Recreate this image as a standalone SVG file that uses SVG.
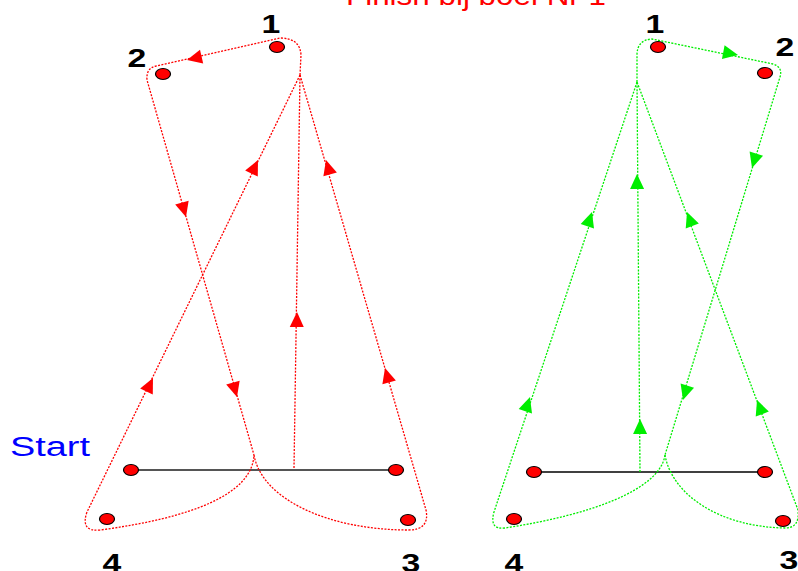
<svg xmlns="http://www.w3.org/2000/svg" xmlns:xlink="http://www.w3.org/1999/xlink" width="798" height="571" viewBox="0 0 798 571">
<style>
.rd{fill:none;stroke:#ff0000;stroke-width:1.3;stroke-dasharray:2 1.4}
.gd{fill:none;stroke:#00ee00;stroke-width:1.3;stroke-dasharray:2 1.4}
.ra{fill:#ff0000}
.ga{fill:#00ee00}
.node{fill:#ff0000;stroke:#000;stroke-width:1.2}
.num{font-family:"Liberation Sans",Arial,sans-serif;font-weight:bold;font-size:25px;fill:#000;text-anchor:middle}
</style>
<defs>
<path id="ah" d="M0,0 L-15,-7 L-15,7 Z"/>
</defs>
<rect width="798" height="571" fill="#fff"/>
<text x="346" y="5" font-family="Liberation Sans, Arial, sans-serif" font-size="27" fill="#ff0000" textLength="260" lengthAdjust="spacingAndGlyphs">Finish bij boei Nr 1</text>
<text x="10" y="456" font-family="Liberation Sans, Arial, sans-serif" font-size="27" fill="#0000ff" textLength="80" lengthAdjust="spacingAndGlyphs">Start</text>
<g id="connectors">
<line x1="131" y1="470" x2="396" y2="470" stroke="#555" stroke-width="2"/>
<line x1="534" y1="472" x2="765" y2="472" stroke="#000" stroke-width="1.5"/>
<path class="rd" d="M294 468 L300 75"/>
<path class="rd" d="M300 75 L301 55 Q300 38 280 38 L156 66 Q146 68 147 80 L254 455"/>
<path class="rd" d="M300 75 L87 512 Q80 532 100 530 C190 518 252 495 254 455"/>
<path class="rd" d="M254 455 C262 500 330 530 408 530 Q430 530 426 510 L300 75"/>
<path class="gd" d="M640 472 L637 82"/>
<path class="gd" d="M637 82 L637 55 Q637 40 652 39 L773 64 Q783 67 780 77 L665 455"/>
<path class="gd" d="M637 82 L494 512 Q489 530 505 528 C590 515 660 490 665 455"/>
<path class="gd" d="M665 455 C672 495 720 527 785 528 Q800 528 798 510 L637 82"/>
<use xlink:href="#ah" class="ra" transform="translate(187,60) rotate(166.8)"/>
<use xlink:href="#ah" class="ra" transform="translate(186,217) rotate(74.2)"/>
<use xlink:href="#ah" class="ra" transform="translate(237,397) rotate(74.2)"/>
<use xlink:href="#ah" class="ra" transform="translate(258,160) rotate(-64.2)"/>
<use xlink:href="#ah" class="ra" transform="translate(153,378) rotate(-64.2)"/>
<use xlink:href="#ah" class="ra" transform="translate(297,312) rotate(-89.1)"/>
<use xlink:href="#ah" class="ra" transform="translate(326,160) rotate(-106)"/>
<use xlink:href="#ah" class="ra" transform="translate(385,368) rotate(-106)"/>
<use xlink:href="#ah" class="ga" transform="translate(738,55) rotate(11)"/>
<use xlink:href="#ah" class="ga" transform="translate(752,168) rotate(106.7)"/>
<use xlink:href="#ah" class="ga" transform="translate(683,400) rotate(106.7)"/>
<use xlink:href="#ah" class="ga" transform="translate(592,212) rotate(-71.9)"/>
<use xlink:href="#ah" class="ga" transform="translate(530,397) rotate(-71.9)"/>
<use xlink:href="#ah" class="ga" transform="translate(637,174) rotate(-90.4)"/>
<use xlink:href="#ah" class="ga" transform="translate(640,419) rotate(-90.4)"/>
<use xlink:href="#ah" class="ga" transform="translate(687,212) rotate(-110.6)"/>
<use xlink:href="#ah" class="ga" transform="translate(757,400) rotate(-110.6)"/>
</g>
<g id="L1"><ellipse class="node" cx="277" cy="47" rx="7.5" ry="5.5"/><text class="num" transform="translate(271,33) scale(1.35,1)">1</text></g>
<g id="L2"><ellipse class="node" cx="163" cy="74" rx="7.5" ry="5.5"/><text class="num" transform="translate(137,67) scale(1.35,1)">2</text></g>
<g id="LS1"><ellipse class="node" cx="131" cy="470" rx="7.5" ry="5.5"/></g>
<g id="LS2"><ellipse class="node" cx="396" cy="470" rx="7.5" ry="5.5"/></g>
<g id="L4"><ellipse class="node" cx="107" cy="519" rx="7.5" ry="5.5"/><text class="num" transform="translate(112,572) scale(1.35,1)">4</text></g>
<g id="L3"><ellipse class="node" cx="408" cy="520" rx="7.5" ry="5.5"/><text class="num" transform="translate(411,572) scale(1.35,1)">3</text></g>
<g id="R1"><ellipse class="node" cx="658" cy="47" rx="7.5" ry="5.5"/><text class="num" transform="translate(655,33) scale(1.35,1)">1</text></g>
<g id="R2"><ellipse class="node" cx="765" cy="73" rx="7.5" ry="5.5"/><text class="num" transform="translate(785,56) scale(1.35,1)">2</text></g>
<g id="RS1"><ellipse class="node" cx="534" cy="472" rx="7.5" ry="5.5"/></g>
<g id="RS2"><ellipse class="node" cx="765" cy="472" rx="7.5" ry="5.5"/></g>
<g id="R4"><ellipse class="node" cx="514" cy="519" rx="7.5" ry="5.5"/><text class="num" transform="translate(514,572) scale(1.35,1)">4</text></g>
<g id="R3"><ellipse class="node" cx="783" cy="521" rx="7.5" ry="5.5"/><text class="num" transform="translate(789,569) scale(1.35,1)">3</text></g>
</svg>
